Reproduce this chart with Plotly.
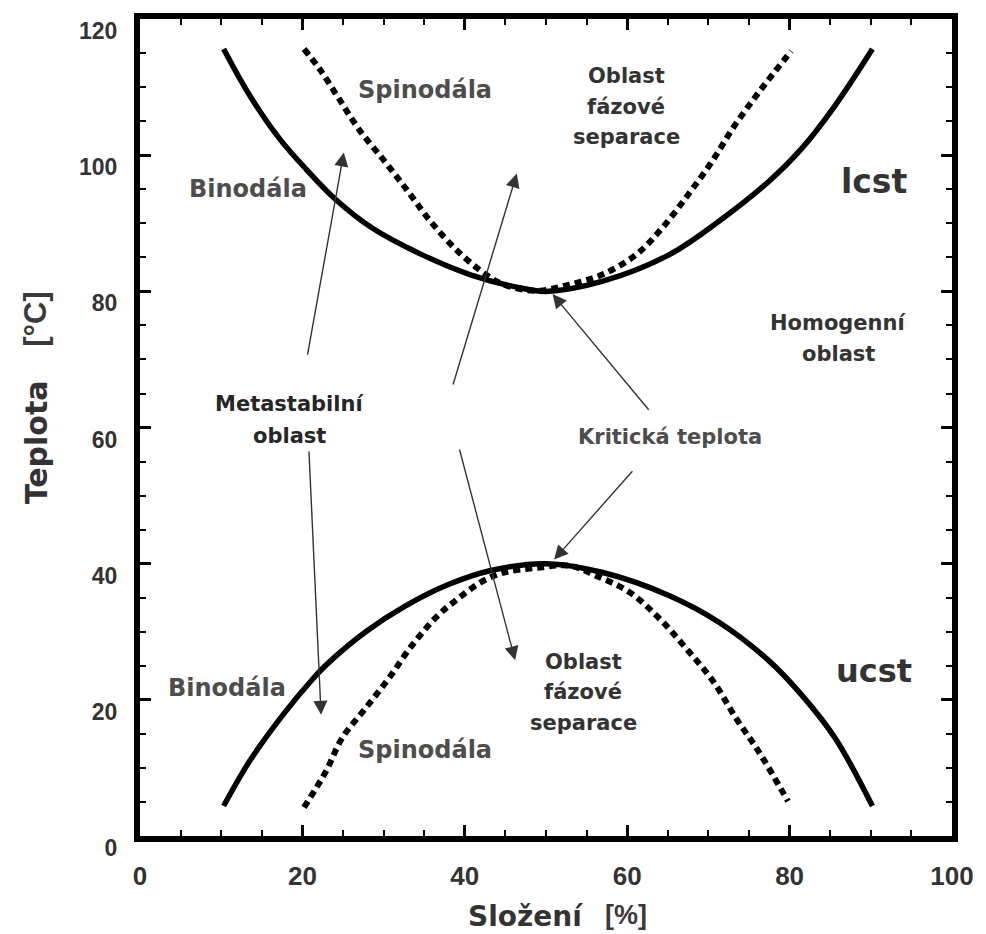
import plotly.graph_objects as go

# ---- data ----
upper_binodal_x = [10.3, 13.5, 17.2, 20.5, 24.1, 28.6, 34.7, 40.8, 46.9, 50.0, 57.0, 65.2, 71.3, 77.4, 81.5, 85.6, 90.2]
upper_binodal_y = [115.6, 108.8, 102.4, 97.9, 93.5, 89.3, 85.4, 82.4, 80.5, 80.0, 81.5, 85.4, 90.3, 96.1, 101.0, 107.3, 115.6]

upper_spinodal_x = [20.2, 22.1, 24.5, 26.9, 30.2, 33.0, 35.5, 38.7, 42.0, 44.8, 48.9, 52.9, 57.0, 61.1, 64.3, 67.5, 70.4, 73.2, 76.5, 80.2]
upper_spinodal_y = [115.6, 112.7, 108.3, 103.9, 99.0, 94.7, 90.7, 86.4, 83.0, 81.0, 80.1, 81.0, 82.5, 85.4, 89.3, 94.2, 99.0, 104.3, 109.7, 115.3]

lower_binodal_x = [10.3, 13.5, 17.6, 21.3, 22.9, 27.8, 32.7, 37.9, 43.2, 50.0, 57.0, 65.2, 71.3, 77.4, 81.5, 85.6, 90.2]
lower_binodal_y = [4.4, 11.0, 17.8, 23.1, 25.1, 30.0, 33.8, 36.9, 39.0, 40.0, 38.7, 35.3, 31.4, 25.8, 20.7, 14.4, 4.4]

lower_spinodal_x = [20.2, 22.9, 24.9, 27.8, 30.6, 33.5, 36.7, 39.1, 42.0, 44.8, 48.9, 52.9, 56.2, 60.3, 64.0, 67.3, 70.6, 73.4, 76.2, 79.8]
lower_spinodal_y = [4.2, 9.5, 14.4, 18.8, 23.1, 28.0, 32.4, 34.8, 37.3, 38.7, 39.4, 39.7, 38.2, 35.8, 31.9, 27.5, 22.7, 17.3, 12.4, 5.1]

x_ticks = [0, 20, 40, 60, 80, 100]
y_ticks = [0, 20, 40, 60, 80, 100, 120]

# labels: text, x, y, size, colour
labels = [
    ("Spinodála", 35.1, 109.6, 24, "#4d4d4d"),
    ("Oblast", 59.9, 111.6, 21, "#333333"),
    ("fázové", 59.9, 107.1, 21, "#333333"),
    ("separace", 59.9, 102.7, 21, "#333333"),
    ("Binodála", 13.3, 95.1, 24, "#4d4d4d"),
    ("lcst", 90.4, 96.1, 33, "#333333"),
    ("Homogenní", 86.0, 75.4, 21, "#333333"),
    ("oblast", 86.0, 70.8, 21, "#333333"),
    ("Metastabilní", 18.4, 63.4, 21, "#262626"),
    ("oblast", 18.4, 58.8, 21, "#262626"),
    ("Kritická teplota", 65.3, 58.6, 21, "#4d4d4d"),
    ("ucst", 90.4, 24.3, 32, "#333333"),
    ("Oblast", 54.6, 25.6, 21, "#333333"),
    ("fázové", 54.6, 21.1, 21, "#333333"),
    ("separace", 54.6, 16.6, 21, "#333333"),
    ("Binodála", 10.7, 21.8, 24, "#4d4d4d"),
    ("Spinodála", 35.1, 12.7, 24, "#4d4d4d"),
]

# arrows: (tail_x, tail_y, head_x, head_y)
arrows = [
    (20.6, 70.5, 25.1, 100.4),
    (38.5, 66.1, 46.4, 97.3),
    (20.8, 56.7, 22.3, 17.8),
    (39.3, 57.0, 46.2, 25.8),
    (62.8, 62.4, 50.8, 79.6),
    (60.8, 53.8, 51.0, 40.6),
]

fig = go.Figure()
solid = dict(color="black", width=5.5, shape="spline", smoothing=1.0)
dotted = dict(color="black", width=6, dash="7px,5px", shape="spline", smoothing=1.0)
fig.add_trace(go.Scatter(x=upper_binodal_x, y=upper_binodal_y, mode="lines", line=solid))
fig.add_trace(go.Scatter(x=upper_spinodal_x, y=upper_spinodal_y, mode="lines", line=dotted))
fig.add_trace(go.Scatter(x=lower_binodal_x, y=lower_binodal_y, mode="lines", line=solid))
fig.add_trace(go.Scatter(x=lower_spinodal_x, y=lower_spinodal_y, mode="lines", line=dotted))

ann = []
for t, x, y, s, c in labels:
    ann.append(dict(text=t, x=x, y=y, xref="x", yref="y", showarrow=False,
                    font=dict(family="DejaVu Sans", size=s, color=c, weight="bold"),
                    xanchor="center", yanchor="middle"))
for tx, ty, hx, hy in arrows:
    ann.append(dict(text="", x=hx, y=hy, ax=tx, ay=ty, xref="x", yref="y",
                    axref="x", ayref="y", showarrow=True, arrowhead=2,
                    arrowsize=2.0, arrowwidth=1.4, arrowcolor="#333333", standoff=0))

# axis titles (paper coordinates)
title_common = dict(xref="paper", yref="paper", showarrow=False, xanchor="center", yanchor="middle")
ann.append(dict(text="Složení", x=0.4744, y=-0.098,
                font=dict(family="DejaVu Sans", size=28, color="#333333", weight="bold"), **title_common))
ann.append(dict(text="[%]", x=0.5985, y=-0.097,
                font=dict(family="Liberation Sans", size=27, color="#3a3a3a", weight="bold"), **title_common))
ann.append(dict(text="Teplota", x=-0.128, y=0.482, textangle=-90,
                font=dict(family="DejaVu Sans", size=30, color="#333333", weight="bold"), **title_common))
ann.append(dict(text="[°C]", x=-0.128, y=0.632, textangle=-90,
                font=dict(family="Liberation Sans", size=31, color="#3a3a3a", weight="bold"), **title_common))

axis_common = dict(showgrid=False, zeroline=False, showline=True, linecolor="black",
                   linewidth=6, mirror="allticks", ticks="inside", ticklen=11,
                   tickwidth=2.5, tickcolor="black")

fig.update_layout(
    width=986, height=934, showlegend=False,
    plot_bgcolor="white", paper_bgcolor="white",
    margin=dict(l=140, r=27, t=19, b=98),
    annotations=ann,
    xaxis=dict(range=[0, 100], tickvals=x_ticks, ticktext=[str(v) for v in x_ticks],
               tickfont=dict(family="Liberation Sans", size=26, color="#333333", weight="bold"),
               minor=dict(dtick=5, ticks="inside", ticklen=6, tickwidth=2, tickcolor="black"),
               ticklabelstandoff=12, **axis_common),
    yaxis=dict(range=[0, 120.01], tickvals=y_ticks, ticktext=[str(v) for v in y_ticks],
               tickfont=dict(family="Liberation Sans", size=23, color="#333333", weight="bold"),
               minor=dict(dtick=5, ticks="inside", ticklen=6, tickwidth=2, tickcolor="black"),
               ticklabelstandoff=12, ticklabelshift=12, **axis_common),
)
fig.write_html("out.html")
